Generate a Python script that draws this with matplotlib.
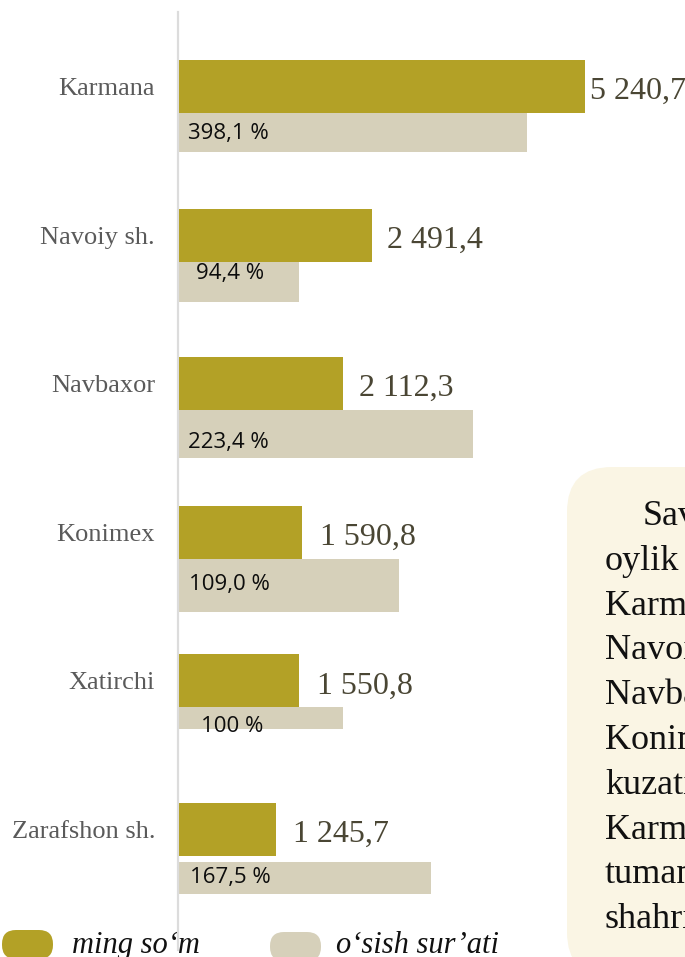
import matplotlib
matplotlib.use("Agg")
import matplotlib.pyplot as plt
from matplotlib.patches import FancyBboxPatch
import matplotlib.transforms as mtransforms

# ---------------- data ----------------
regions = ["Karmana", "Navoiy sh.", "Navbaxor", "Konimex", "Xatirchi", "Zarafshon sh."]
ming_som = [5240.7, 2491.4, 2112.3, 1590.8, 1550.8, 1245.7]
osish_labels = ["398,1 %", "94,4 %", "223,4 %", "109,0 %", "100 %", "167,5 %"]
# drawn length of the growth-rate bars (same units as ming so'm axis)
osish_bar = [4490, 1548, 3794, 2839, 2116, 3252]
legend_labels = ["ming so\u2018m", "o\u2018sish sur\u2019ati"]

# ---------------- style ----------------
W, H = 685, 957
OLIVE = "#b3a126"
BEIGE = "#d6d0ba"
CREAM = "#faf5e4"
SERIF = ["Liberation Serif", "DejaVu Serif"]
SANS = ["Open Sans", "DejaVu Sans"]

AX_LEFT_PX = 179
PX_PER_UNIT = 0.0775
GROUP_PX = 148.6
FIRST_TOP_PX = 60

# per-group style offsets (pixels, relative to the top of the olive bar)
beige_top = [52, 53, 53, 53, 53, 59]
beige_bot = [92, 93, 101, 106, 75, 91]
pct_y = [74, 65, 85, 79, 72, 74]
pct_x = [9, 17, 9, 10, 22, 11]
val_x = [5, 15, 16, 18, 18, 17]
OLIVE_H = 53

fig = plt.figure(figsize=(W / 100, H / 100), dpi=100)
fig.patch.set_facecolor("white")

xmax = (W - AX_LEFT_PX) / PX_PER_UNIT
ax = fig.add_axes([AX_LEFT_PX / W, 0, (W - AX_LEFT_PX) / W, 1])
ax.set_xlim(0, xmax)
ytop = -FIRST_TOP_PX / GROUP_PX
ybot = (H - FIRST_TOP_PX) / GROUP_PX
ax.set_ylim(ybot, ytop)
ax.set_facecolor("none")
for s in ["top", "right", "bottom"]:
    ax.spines[s].set_visible(False)
ax.spines["left"].set_color("#dcdcdc")
ax.spines["left"].set_linewidth(1.6)
ax.spines["left"].set_bounds((12 - FIRST_TOP_PX) / GROUP_PX, (950 - FIRST_TOP_PX) / GROUP_PX)
ax.spines["left"].set_position(("data", -1 / PX_PER_UNIT))
ax.set_xticks([])
ax.set_yticks([])

px_x = 1 / PX_PER_UNIT
px_y = 1 / GROUP_PX

def fmt_val(v):
    return f"{v:,.1f}".replace(",", " ").replace(".", ",")

idx = list(range(len(regions)))
ax.barh(idx, ming_som, height=OLIVE_H * px_y, align="edge", color=OLIVE, zorder=3)
ax.barh([i + beige_top[i] * px_y for i in idx], osish_bar,
        height=[(beige_bot[i] - beige_top[i]) * px_y for i in idx],
        align="edge", color=BEIGE, zorder=2)

for i in idx:
    ax.text(-24 * px_x, i + 35 * px_y, regions[i], ha="right", va="baseline",
            fontsize=19, family=SERIF, color="#5a5a5a", clip_on=False)
    ax.text(ming_som[i] + val_x[i] * px_x, i + 39 * px_y, fmt_val(ming_som[i]),
            ha="left", va="baseline", fontsize=23, family=SERIF, color="#4a4634",
            clip_on=False, zorder=5)
    ax.text(pct_x[i] * px_x, i + pct_y[i] * px_y, osish_labels[i],
            ha="left", va="center", fontsize=16, family=SANS, color="#0d0d0d",
            zorder=5)

# pixel transform for figure-level decorations (origin top-left)
pix = mtransforms.Affine2D().scale(1 / W, -1 / H).translate(0, 1) + fig.transFigure

# text box on the right (cut off by the page edge)
box = FancyBboxPatch((567 + 45, 467 + 45), 200, 420,
                     boxstyle="round,pad=45", transform=pix,
                     facecolor=CREAM, edgecolor="none", zorder=0)
fig.patches.append(box)
box_lines = ["Savdo", "oylik", "Karmana", "Navoiy", "Navbaxor", "Konimex",
             "kuzatildi", "Karmana", "tumani", "shahri"]
for k, line in enumerate(box_lines):
    x0 = 643 if k == 0 else 605
    fig.text(x0, 525 + 44.8 * k, line, transform=pix, ha="left", va="baseline",
             fontsize=26, family=SERIF, color="#111111")

# legend
for (x0, y0, col, tx, lab) in [(2, 930, OLIVE, 72, legend_labels[0]),
                                (270, 932, BEIGE, 336, legend_labels[1])]:
    pill = FancyBboxPatch((x0 + 14, y0 + 14), 51 - 28, 1, boxstyle="round,pad=14",
                          transform=pix, facecolor=col, edgecolor="none")
    fig.patches.append(pill)
    fig.text(tx, 953, lab, transform=pix, ha="left", va="baseline",
             fontsize=22, family=SERIF, style="italic", color="#111111")

fig.savefig("out.png", dpi=100)
